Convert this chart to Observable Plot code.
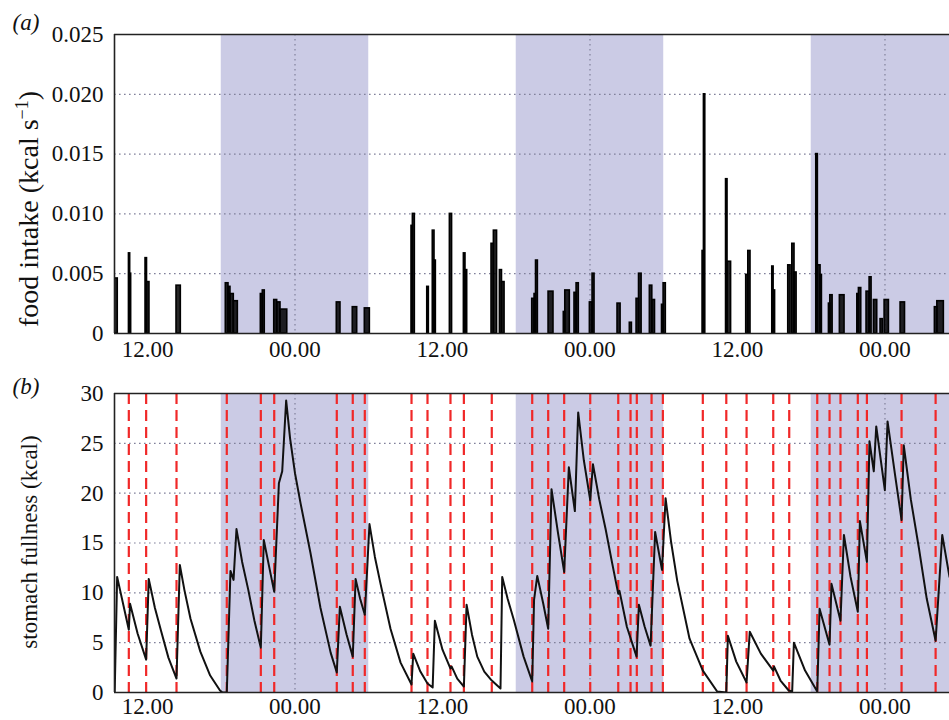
<!DOCTYPE html>
<html>
<head>
<meta charset="utf-8">
<script src="https://cdn.jsdelivr.net/npm/d3@7"></script>
<script src="https://cdn.jsdelivr.net/npm/@observablehq/plot@0.6"></script>
<style>
  body { margin: 0; background: #fff; }
  svg { display: block; }
  svg, svg text, svg tspan { font-family: "Liberation Serif", "DejaVu Serif", "Times New Roman", serif !important; }
</style>
</head>
<body>
<div id="chart"></div>
<script>
// ---- time axis (hours since first midnight) ----
const xStart = 9.315, xEnd = 77.25;
const xTicks = [12, 24, 36, 48, 60, 72];
const xTickLabels = ["12.00", "00.00", "12.00", "00.00", "12.00", "00.00"];

// ---- dark periods ----
const nightStart = [18, 42, 66];
const nightEnd = [30, 54, 78];

// ---- panel (a): food intake rate (kcal/s) per feeding bout ----
const barStart = [9.34,10.49,10.59,11.84,11.96,14.36,18.37,18.59,18.75,19.02,21.22,21.38,22.31,22.55,22.82,27.40,28.70,29.68,33.48,33.59,34.76,35.21,35.35,36.60,37.74,37.87,39.99,40.18,40.67,40.84,43.30,43.49,43.61,44.63,45.87,45.99,46.74,46.91,47.99,48.21,50.24,51.24,51.79,51.99,52.87,53.07,53.86,53.99,57.16,57.27,59.07,59.19,60.71,60.88,62.83,62.94,64.13,64.46,64.64,66.41,66.54,66.76,67.44,67.55,68.33,69.75,69.88,70.50,70.75,71.10,71.64,71.97,73.27,76.06,76.26];
const barEnd = [9.58,10.59,10.67,11.96,12.16,14.71,18.59,18.75,19.02,19.35,21.38,21.54,22.55,22.82,23.37,27.70,29.06,30.09,33.59,33.75,34.89,35.35,35.46,36.78,37.87,38.01,40.18,40.44,40.84,41.05,43.49,43.61,43.76,45.03,45.99,46.36,46.91,47.09,48.21,48.37,50.49,51.41,51.99,52.20,53.07,53.29,53.99,54.17,57.27,57.38,59.19,59.48,60.88,61.06,62.94,63.06,64.32,64.64,64.81,66.54,66.76,66.87,67.55,67.74,68.71,69.88,70.07,70.75,70.91,71.37,71.83,72.32,73.63,76.26,76.79];
const barRate = [0.0046,0.0067,0.0050,0.0063,0.0043,0.0040,0.0042,0.0039,0.0033,0.0027,0.0033,0.0036,0.0028,0.0026,0.0020,0.0026,0.0022,0.0021,0.0090,0.0100,0.0039,0.0086,0.0061,0.0100,0.0067,0.0053,0.0075,0.0086,0.0053,0.0043,0.0029,0.0033,0.0061,0.0035,0.0018,0.0036,0.0034,0.0042,0.0026,0.0050,0.0025,0.0009,0.0029,0.0050,0.0040,0.0028,0.0024,0.0042,0.0069,0.0200,0.0129,0.0060,0.0049,0.0069,0.0056,0.0036,0.0057,0.0075,0.0051,0.0150,0.0057,0.0049,0.0025,0.0032,0.0032,0.0033,0.0038,0.0035,0.0047,0.0028,0.0012,0.0028,0.0026,0.0022,0.0027];
const yTicksA = [0, 0.005, 0.010, 0.015, 0.020, 0.025];
const yTickLabelsA = ["0", "0.005", "0.010", "0.015", "0.020", "0.025"];

// ---- panel (b): stomach fullness (kcal) and meal onsets ----
const fullT = [9.33,9.53,10.48,10.58,11.2,11.89,12.1,12.6,13.1,13.7,14.36,14.63,15.0,15.5,16.3,17.1,17.9,18.1,18.45,18.75,19.0,19.24,19.7,20.2,20.7,21.22,21.46,21.9,22.31,22.69,22.96,23.28,23.6,24.0,24.45,25.26,26.07,26.9,27.40,27.65,28.2,28.70,28.93,29.3,29.68,30.06,30.5,30.96,31.77,32.59,33.48,33.62,34.2,34.78,35.2,35.38,36.0,36.65,36.75,37.2,37.74,37.96,38.4,38.83,39.4,40.01,40.72,40.86,41.3,41.8,42.6,43.30,43.45,43.71,44.2,44.60,44.87,45.4,45.90,46.28,46.77,47.04,47.5,48.02,48.24,48.75,49.27,49.8,50.30,50.40,51.0,51.79,51.98,52.45,52.93,53.30,53.86,54.15,54.6,55.1,56.1,57.18,58.35,59.09,59.22,59.9,60.74,61.0,61.9,62.91,62.98,63.5,64.17,64.45,64.59,65.5,66.49,66.68,67.49,67.65,68.38,68.66,69.2,69.79,69.96,70.53,70.74,71.09,71.29,71.99,72.21,72.8,73.35,73.53,74.1,74.76,75.4,76.12,76.66,77.25];
const fullV = [0,11.6,6.3,8.9,5.9,3.3,11.4,8.5,6.2,3.5,1.4,12.8,10.3,7.4,4.1,1.7,0.2,0,0,12.2,11.3,16.4,13.1,10.3,7.2,4.5,15.3,12.6,10.1,21.0,22.2,29.3,25.5,22.0,19.0,14.0,8.5,4.0,2.0,8.6,5.8,3.6,11.4,9.4,7.8,16.9,13.6,10.9,6.4,3.0,0.8,3.9,2.1,0.9,0.5,7.2,4.3,2.4,2.6,1.4,0.6,8.8,5.8,3.6,2.1,1.2,0.4,11.6,9.4,7.3,3.6,1.1,9.3,11.7,8.9,6.4,20.4,16.0,12.1,22.6,18.2,28.1,23.3,19.3,22.9,19.4,16.4,13.0,9.9,10.2,6.6,3.6,8.8,6.6,4.7,16.1,12.3,19.5,15.1,11.2,5.4,2.2,0.1,0,5.7,3.1,1.0,6.1,3.9,2.2,2.6,1.2,0.2,0.1,5.0,2.2,0.1,8.4,4.8,10.9,7.2,15.8,11.6,8.1,17.2,13.1,25.2,22.2,26.7,20.3,27.2,22.0,17.3,24.8,19.4,14.5,9.4,5.2,15.8,11.6];
const mealTimes = [10.48,11.89,14.36,18.45,21.22,22.31,27.40,28.70,29.68,33.48,34.78,36.65,37.74,40.01,43.30,44.60,45.90,48.02,50.30,51.30,51.81,53.01,53.93,57.18,59.09,60.74,62.91,64.21,66.49,67.49,68.38,69.79,70.53,73.35,76.12];
const yTicksB = [0, 5, 10, 15, 20, 25, 30];
const yTickLabelsB = ["0", "5", "10", "15", "20", "25", "30"];

// ---- styles ----
const nightColor = "#cbcbe5";
const gridColor = "#80809a";
const frameColor = "#222";
const font = "Liberation Serif, DejaVu Serif, Times New Roman, serif";

const midnights = xTicks.filter((d, i) => xTickLabels[i] === "00.00");

function nightRects(yTicks) {
  return nightStart.map((s, i) => ({x1: s, x2: nightEnd[i], y1: yTicks[0], y2: yTicks[yTicks.length - 1]}));
}

function basePlot({marginTop, marginBottom, yTicks, yLabels, xPad, marks}) {
  return Plot.plot({
    width: 949,
    height: 360,
    marginLeft: 114,
    marginRight: 0,
    marginTop,
    marginBottom,
    style: {fontFamily: font, fontSize: "23px", color: "#111", background: "transparent", overflow: "visible"},
    x: {domain: [xStart, xEnd], ticks: xTicks, tickFormat: (d, i) => xTickLabels[i], tickSize: 0, tickPadding: xPad, label: null},
    y: {domain: [yTicks[0], yTicks[yTicks.length - 1]], ticks: yTicks, tickFormat: (d, i) => yLabels[i], tickSize: 0, tickPadding: 11, label: null},
    marks: [
      Plot.rect(nightRects(yTicks), {x1: "x1", x2: "x2", y1: "y1", y2: "y2", fill: nightColor, clip: true}),
      Plot.ruleY(yTicks.slice(1, -1), {stroke: gridColor, strokeWidth: 1.2, strokeDasharray: "1.6,3.4"}),
      Plot.ruleX(midnights, {stroke: gridColor, strokeWidth: 1.2, strokeDasharray: "1.6,3.4"}),
      ...marks,
      Plot.ruleX([xStart], {stroke: frameColor, strokeWidth: 1.6}),
      Plot.ruleY([yTicks[0], yTicks[yTicks.length - 1]], {stroke: frameColor, strokeWidth: 1.6})
    ]
  });
}

const bars = barStart.map((s, i) => ({t0: s, t1: barEnd[i], v: barRate[i]}));
const fullness = fullT.map((t, i) => ({t, v: fullV[i]}));

const plotA = basePlot({
  marginTop: 34, marginBottom: 27, yTicks: yTicksA, yLabels: yTickLabelsA, xPad: 7,
  marks: [
    Plot.rectY(bars, {x1: "t0", x2: "t1", y: "v", stroke: "#000", fill: "#000", fillOpacity: 0.85, strokeWidth: 1.6, clip: true}),
    Plot.text(["(a)"], {frameAnchor: "top-left", dx: -102, dy: -21, textAnchor: "start", lineAnchor: "top", fontStyle: "italic", fontSize: 23}),
    Plot.text(["food intake (kcal s"], {frameAnchor: "left", dx: -85, dy: 25, rotate: -90, textAnchor: "middle", lineAnchor: "middle", fontSize: 28})
  ]
});

const plotB = basePlot({
  marginTop: 33, marginBottom: 28, yTicks: yTicksB, yLabels: yTickLabelsB, xPad: 5,
  marks: [
    Plot.ruleX(mealTimes, {stroke: "#f02828", strokeWidth: 2.2, strokeDasharray: "11,6"}),
    Plot.line(fullness, {x: "t", y: "v", stroke: "#111", strokeWidth: 2, clip: true}),
    Plot.text(["(b)"], {frameAnchor: "top-left", dx: -102, dy: -16, textAnchor: "start", lineAnchor: "top", fontStyle: "italic", fontSize: 23}),
    Plot.text(["stomach fullness (kcal)"], {frameAnchor: "left", dx: -85, dy: -1, rotate: -90, textAnchor: "middle", lineAnchor: "middle", fontSize: 23})
  ]
});

// superscript "−1" in the first y-axis title
d3.select(plotA).selectAll("text").each(function () {
  if (this.textContent === "food intake (kcal s") {
    const lab = d3.select(this);
    lab.append("tspan").attr("dy", -10).attr("font-size", 18).text("\u22121");
    lab.append("tspan").attr("dy", 10).text(")");
  }
});

const chart = document.getElementById("chart");
chart.appendChild(plotA);
chart.appendChild(plotB);
</script>
</body>
</html>
